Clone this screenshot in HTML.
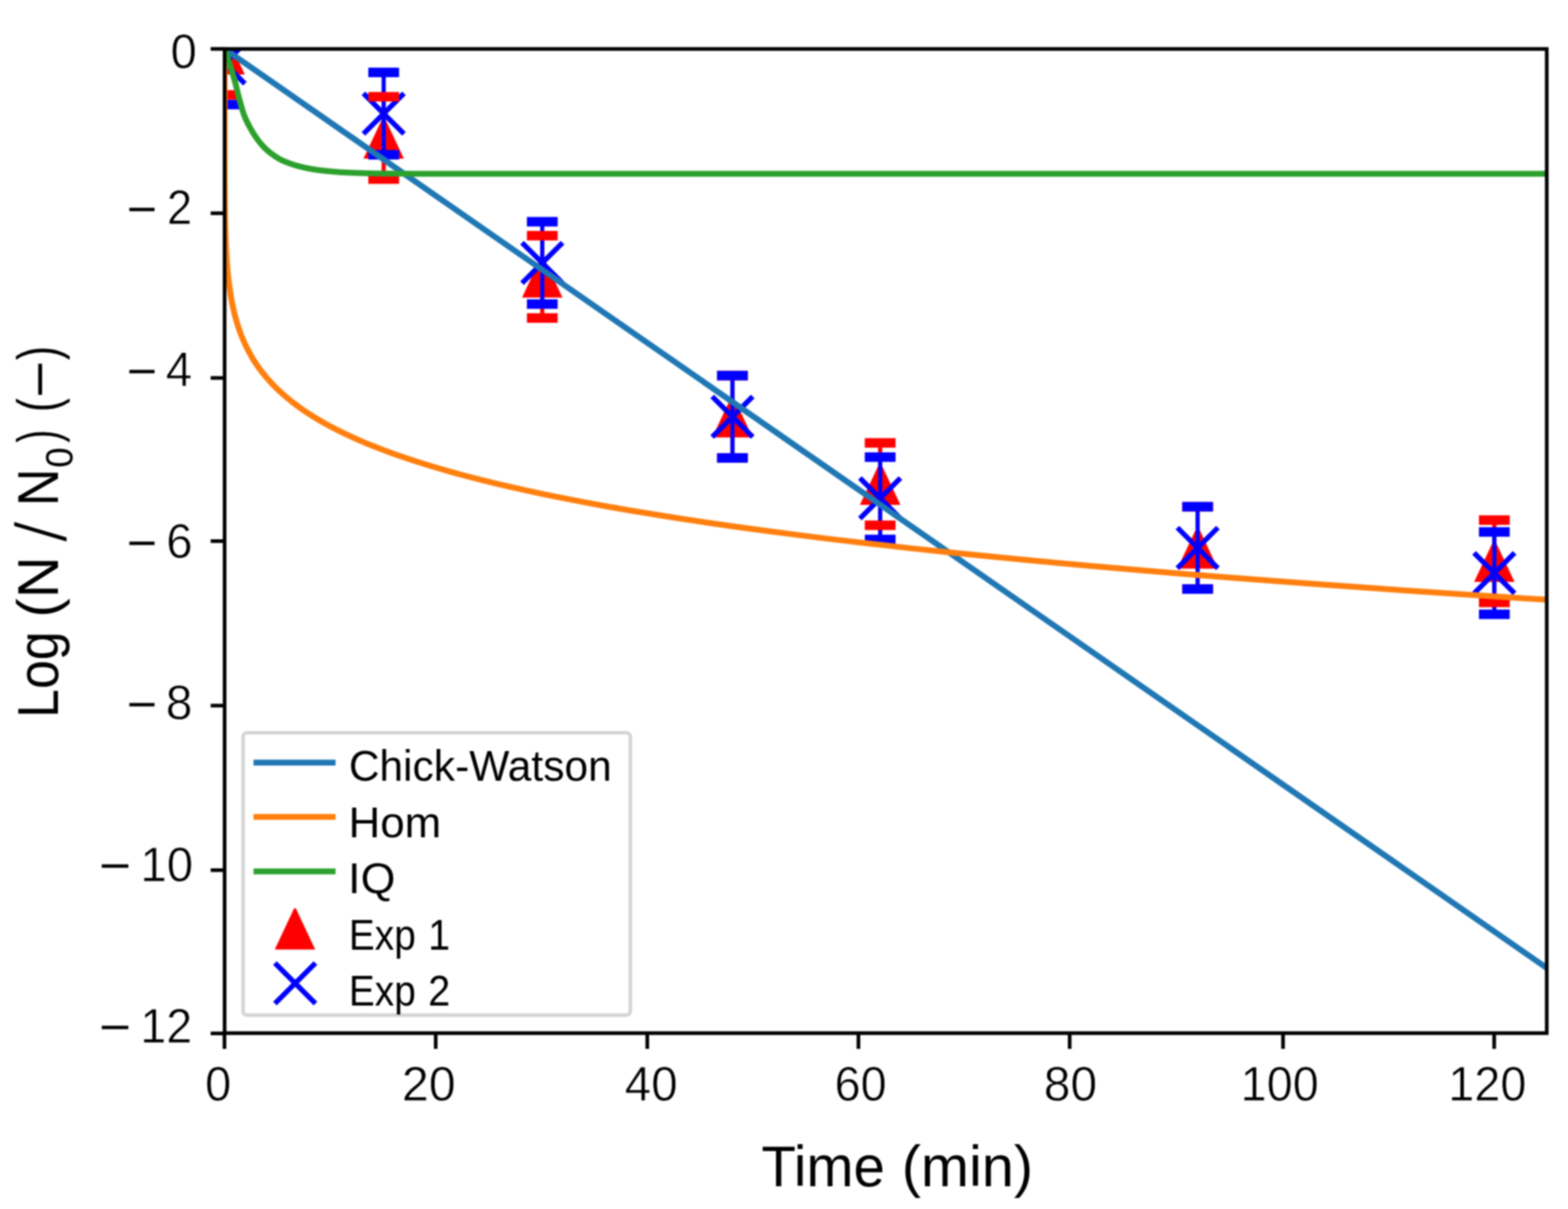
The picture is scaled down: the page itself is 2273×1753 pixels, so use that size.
<!DOCTYPE html>
<html lang="en"><head><meta charset="utf-8"><title>Inactivation kinetics: Log (N / N0) vs Time (min)</title>
<style>
html,body{margin:0;padding:0;background:#fff;}
body{width:2273px;height:1753px;overflow:hidden;}
svg{display:block;filter:blur(1.2px);}
text{font-family:"Liberation Sans","DejaVu Sans",sans-serif;fill:#000;stroke:#fff;stroke-width:0;stroke-linejoin:round;}
.tk{font-size:70.8px;stroke-width:0.8px;}
.lg{font-size:63.4px;stroke-width:0.0px;}
.al{font-size:84.3px;stroke-width:0.0px;}
.sub{font-size:56.0px;}
.sl{font-size:108px;stroke-width:3px;}
.mn{font-family:"DejaVu Sans","Liberation Sans",sans-serif;font-size:60.7px;stroke:none;}
</style></head><body>
<svg width="2273" height="1753" viewBox="0 0 2273 1753" role="img" aria-label="Log (N / N0) versus Time (min): Chick-Watson, Hom and IQ model fits with Exp 1 and Exp 2 data">
<rect width="2273" height="1753" fill="#fff"/>
<defs><clipPath id="ax"><rect x="325.60" y="71.00" width="1916.60" height="1427.00"/></clipPath></defs>
<g clip-path="url(#ax)">
<path d="M324.40 48.10L326.80 48.10L354.90 107.90L296.30 107.90Z" fill="#ff0000"/>
<path d="M555.00 170.20L557.40 170.20L585.50 230.00L526.90 230.00Z" fill="#ff0000"/>
<path d="M784.90 371.60L787.30 371.60L815.40 431.40L756.80 431.40Z" fill="#ff0000"/>
<path d="M1060.60 574.50L1063.00 574.50L1091.10 634.30L1032.50 634.30Z" fill="#ff0000"/>
<path d="M1274.70 672.10L1277.10 672.10L1305.20 731.90L1246.60 731.90Z" fill="#ff0000"/>
<path d="M1734.90 764.60L1737.30 764.60L1765.40 824.40L1706.80 824.40Z" fill="#ff0000"/>
<path d="M2165.00 784.00L2167.40 784.00L2195.50 843.80L2136.90 843.80Z" fill="#ff0000"/>
<path d="M296.20 62.50L355.00 121.30M296.20 121.30L355.00 62.50" stroke="#0000ff" stroke-width="7.40" fill="none"/>
<path d="M526.80 135.30L585.60 194.10M526.80 194.10L585.60 135.30" stroke="#0000ff" stroke-width="7.40" fill="none"/>
<path d="M756.70 351.80L815.50 410.60M756.70 410.60L815.50 351.80" stroke="#0000ff" stroke-width="7.40" fill="none"/>
<path d="M1032.40 574.90L1091.20 633.70M1032.40 633.70L1091.20 574.90" stroke="#0000ff" stroke-width="7.40" fill="none"/>
<path d="M1246.50 693.10L1305.30 751.90M1246.50 751.90L1305.30 693.10" stroke="#0000ff" stroke-width="7.40" fill="none"/>
<path d="M1706.70 765.00L1765.50 823.80M1706.70 823.80L1765.50 765.00" stroke="#0000ff" stroke-width="7.40" fill="none"/>
<path d="M2136.80 801.60L2195.60 860.40M2136.80 860.40L2195.60 801.60" stroke="#0000ff" stroke-width="7.40" fill="none"/>
<line x1="325.60" y1="18.20" x2="325.60" y2="137.60" stroke="#ff0000" stroke-width="6.00"/>
<line x1="556.20" y1="140.30" x2="556.20" y2="259.70" stroke="#ff0000" stroke-width="6.00"/>
<line x1="786.10" y1="341.70" x2="786.10" y2="461.10" stroke="#ff0000" stroke-width="6.00"/>
<line x1="1061.80" y1="544.60" x2="1061.80" y2="664.00" stroke="#ff0000" stroke-width="6.00"/>
<line x1="1275.90" y1="642.20" x2="1275.90" y2="761.60" stroke="#ff0000" stroke-width="6.00"/>
<line x1="1736.10" y1="734.70" x2="1736.10" y2="854.10" stroke="#ff0000" stroke-width="6.00"/>
<line x1="2166.20" y1="754.10" x2="2166.20" y2="873.50" stroke="#ff0000" stroke-width="6.00"/>
<line x1="325.60" y1="32.20" x2="325.60" y2="151.60" stroke="#0000ff" stroke-width="6.00"/>
<line x1="556.20" y1="105.00" x2="556.20" y2="224.40" stroke="#0000ff" stroke-width="6.00"/>
<line x1="786.10" y1="321.50" x2="786.10" y2="440.90" stroke="#0000ff" stroke-width="6.00"/>
<line x1="1061.80" y1="544.60" x2="1061.80" y2="664.00" stroke="#0000ff" stroke-width="6.00"/>
<line x1="1275.90" y1="662.80" x2="1275.90" y2="782.20" stroke="#0000ff" stroke-width="6.00"/>
<line x1="1736.10" y1="734.70" x2="1736.10" y2="854.10" stroke="#0000ff" stroke-width="6.00"/>
<line x1="2166.20" y1="771.30" x2="2166.20" y2="890.70" stroke="#0000ff" stroke-width="6.00"/>
<rect x="303.30" y="130.70" width="44.60" height="13.80" fill="#ff0000"/>
<rect x="533.90" y="133.40" width="44.60" height="13.80" fill="#ff0000"/>
<rect x="533.90" y="252.80" width="44.60" height="13.80" fill="#ff0000"/>
<rect x="763.80" y="334.80" width="44.60" height="13.80" fill="#ff0000"/>
<rect x="763.80" y="454.20" width="44.60" height="13.80" fill="#ff0000"/>
<rect x="1039.50" y="537.70" width="44.60" height="13.80" fill="#ff0000"/>
<rect x="1039.50" y="657.10" width="44.60" height="13.80" fill="#ff0000"/>
<rect x="1253.60" y="635.30" width="44.60" height="13.80" fill="#ff0000"/>
<rect x="1253.60" y="754.70" width="44.60" height="13.80" fill="#ff0000"/>
<rect x="1713.80" y="727.80" width="44.60" height="13.80" fill="#ff0000"/>
<rect x="1713.80" y="847.20" width="44.60" height="13.80" fill="#ff0000"/>
<rect x="2143.90" y="747.20" width="44.60" height="13.80" fill="#ff0000"/>
<rect x="2143.90" y="866.60" width="44.60" height="13.80" fill="#ff0000"/>
<rect x="303.30" y="144.70" width="44.60" height="13.80" fill="#0000ff"/>
<rect x="533.90" y="98.10" width="44.60" height="13.80" fill="#0000ff"/>
<rect x="533.90" y="217.50" width="44.60" height="13.80" fill="#0000ff"/>
<rect x="763.80" y="314.60" width="44.60" height="13.80" fill="#0000ff"/>
<rect x="763.80" y="434.00" width="44.60" height="13.80" fill="#0000ff"/>
<rect x="1039.50" y="537.70" width="44.60" height="13.80" fill="#0000ff"/>
<rect x="1039.50" y="657.10" width="44.60" height="13.80" fill="#0000ff"/>
<rect x="1253.60" y="655.90" width="44.60" height="13.80" fill="#0000ff"/>
<rect x="1253.60" y="775.30" width="44.60" height="13.80" fill="#0000ff"/>
<rect x="1713.80" y="727.80" width="44.60" height="13.80" fill="#0000ff"/>
<rect x="1713.80" y="847.20" width="44.60" height="13.80" fill="#0000ff"/>
<rect x="2143.90" y="764.40" width="44.60" height="13.80" fill="#0000ff"/>
<rect x="2143.90" y="883.80" width="44.60" height="13.80" fill="#0000ff"/>
<path d="M325.60 71.00L2242.20 1403.50" stroke="#1f77b4" stroke-width="8.50" fill="none"/>
<path d="M325.6 71.0L325.6 195.4L325.6 196.5L325.6 197.6L325.6 198.7L325.6 199.8L325.6 200.9L325.6 202.1L325.6 203.2L325.6 204.4L325.6 205.5L325.6 206.7L325.6 207.9L325.6 209.1L325.6 210.3L325.6 211.5L325.6 212.8L325.6 214.0L325.6 215.3L325.6 216.5L325.6 217.8L325.6 219.1L325.6 220.4L325.6 221.7L325.6 223.0L325.6 224.3L325.6 225.7L325.6 227.0L325.6 228.4L325.6 229.8L325.6 231.2L325.6 232.6L325.6 234.0L325.6 235.4L325.7 236.8L325.7 238.3L325.7 239.8L325.7 241.2L325.7 242.7L325.7 244.2L325.7 245.7L325.7 247.3L325.7 248.8L325.7 250.4L325.7 251.9L325.7 253.5L325.7 255.1L325.7 256.7L325.7 258.4L325.7 260.0L325.7 261.7L325.7 263.3L325.7 265.0L325.8 266.7L325.8 268.4L325.8 270.2L325.8 271.9L325.8 273.7L325.8 275.4L325.8 277.2L325.8 279.0L325.9 280.8L325.9 282.7L325.9 284.5L325.9 286.4L325.9 288.3L325.9 290.2L326.0 292.1L326.0 294.1L326.0 296.0L326.0 298.0L326.1 300.0L326.1 302.0L326.1 304.0L326.1 306.0L326.2 308.1L326.2 310.2L326.2 312.3L326.3 314.4L326.3 316.5L326.4 318.6L326.4 320.8L326.5 323.0L326.5 325.2L326.6 327.4L326.6 329.7L326.7 331.9L326.8 334.2L326.8 336.5L326.9 338.9L327.0 341.2L327.1 343.6L327.1 346.0L327.2 348.4L327.3 350.8L327.4 353.2L327.5 355.7L327.7 358.2L327.8 360.7L327.9 363.3L328.1 365.8L328.2 368.4L328.4 371.0L328.5 373.6L328.7 376.3L328.9 378.9L329.1 381.6L329.3 384.4L329.5 387.1L329.7 389.9L330.0 392.7L330.3 395.5L330.5 398.3L330.8 401.2L331.1 404.1L331.5 407.0L331.8 409.9L332.2 412.9L332.6 415.9L333.0 418.9L333.5 422.0L333.9 425.0L334.4 428.1L335.0 431.3L335.5 434.4L336.1 437.6L336.8 440.8L337.4 444.0L338.1 447.3L338.9 450.6L339.7 453.9L340.5 457.3L341.4 460.7L342.4 464.1L343.4 467.5L344.5 471.0L345.6 474.5L346.8 478.0L348.1 481.6L349.4 485.2L350.8 488.8L352.4 492.5L354.0 496.2L355.7 499.9L357.5 503.6L359.4 507.4L361.4 511.2L363.6 515.1L365.8 519.0L368.2 522.9L370.8 526.9L373.5 530.9L376.4 534.9L379.4 538.9L382.7 543.0L386.1 547.2L389.7 551.3L393.6 555.5L397.6 559.8L402.0 564.1L406.6 568.4L411.4 572.7L416.6 577.1L422.0 581.6L427.8 586.0L433.9 590.5L440.4 595.1L447.3 599.7L454.6 604.3L462.4 609.0L470.6 613.7L479.3 618.4L488.5 623.2L498.3 628.1L508.6 632.9L519.6 637.9L531.2 642.8L543.6 647.8L556.7 652.9L570.5 658.0L585.2 663.1L600.8 668.3L617.3 673.5L634.8 678.8L653.4 684.1L673.0 689.5L693.9 694.9L716.0 700.4L739.4 705.9L764.2 711.4L790.5 717.1L818.4 722.7L848.0 728.4L879.4 734.2L912.6 740.0L947.8 745.8L985.1 751.7L1024.7 757.7L1066.6 763.7L1111.1 769.8L1158.2 775.9L1208.2 782.1L1261.2 788.3L1317.3 794.6L1376.8 800.9L1439.9 807.3L1506.7 813.7L1577.6 820.2L1652.7 826.8L1732.3 833.4L1816.7 840.1L1906.2 846.8L2001.0 853.6L2101.6 860.5L2208.1 867.4L2242.2 869.5" stroke="#ff7f0e" stroke-width="8.50" fill="none" stroke-linejoin="round"/>
<path d="M325.60 71.00C326.96 75.10 331.20 87.53 333.75 95.60C336.30 103.67 338.72 111.48 340.90 119.40C343.07 127.32 344.63 135.18 346.80 143.10C348.97 151.02 351.32 159.97 353.90 166.90C356.48 173.83 359.32 179.17 362.30 184.70C365.28 190.23 368.63 195.55 371.80 200.10C374.97 204.65 377.75 208.23 381.30 212.00C384.85 215.77 389.15 219.63 393.10 222.70C397.05 225.77 401.03 228.22 405.00 230.40C408.97 232.58 412.93 234.22 416.90 235.80C420.87 237.38 422.87 238.32 428.80 239.90C434.73 241.48 444.58 243.92 452.50 245.30C460.42 246.68 466.72 247.32 476.30 248.20C485.88 249.08 498.55 250.05 510.00 250.60C521.45 251.15 530.00 251.28 545.00 251.50C560.00 251.72 590.83 251.83 600.00 251.90L2242.20 252.00" stroke="#2ca02c" stroke-width="8.50" fill="none"/>
</g>
<rect x="352.40" y="1062.50" width="561.30" height="409.30" rx="5.5" ry="5.5" fill="#fff" fill-opacity="0.8" stroke="#d4d4d4" stroke-width="5.2"/>
<line x1="367.5" y1="1105.80" x2="486.4" y2="1105.80" stroke="#1f77b4" stroke-width="8.50"/>
<line x1="367.5" y1="1184.60" x2="486.4" y2="1184.60" stroke="#ff7f0e" stroke-width="8.50"/>
<line x1="367.5" y1="1263.50" x2="486.4" y2="1263.50" stroke="#2ca02c" stroke-width="8.50"/>
<path d="M426.40 1316.90L428.80 1316.90L456.90 1376.70L398.30 1376.70Z" fill="#ff0000"/>
<path d="M398.50 1396.30L457.30 1455.10M398.50 1455.10L457.30 1396.30" stroke="#0000ff" stroke-width="7.40" fill="none"/>
<text class="lg" y="1132.30"><tspan x="505.64" textLength="381.11" lengthAdjust="spacingAndGlyphs">Chick-Watson</tspan></text>
<text class="lg" y="1214.20"><tspan x="505.23" textLength="134.38" lengthAdjust="spacingAndGlyphs">Hom</tspan></text>
<text class="lg" y="1294.50"><tspan x="504.62" textLength="68.47" lengthAdjust="spacingAndGlyphs">IQ</tspan></text>
<text class="lg" y="1376.90"><tspan x="505.84" textLength="96.88" lengthAdjust="spacingAndGlyphs">Exp</tspan> <tspan x="620.73" textLength="31.67" lengthAdjust="spacingAndGlyphs">1</tspan></text>
<text class="lg" y="1457.90"><tspan x="505.84" textLength="96.88" lengthAdjust="spacingAndGlyphs">Exp</tspan> <tspan x="620.76" textLength="31.89" lengthAdjust="spacingAndGlyphs">2</tspan></text>
<g stroke="#000" fill="none">
<rect x="325.60" y="71.00" width="1916.60" height="1427.00" stroke-width="5.30"/>
<line x1="325.40" y1="1498.00" x2="325.40" y2="1520.80" stroke-width="5.30"/>
<line x1="631.60" y1="1498.00" x2="631.60" y2="1520.80" stroke-width="5.30"/>
<line x1="938.30" y1="1498.00" x2="938.30" y2="1520.80" stroke-width="5.30"/>
<line x1="1244.40" y1="1498.00" x2="1244.40" y2="1520.80" stroke-width="5.30"/>
<line x1="1550.60" y1="1498.00" x2="1550.60" y2="1520.80" stroke-width="5.30"/>
<line x1="1859.90" y1="1498.00" x2="1859.90" y2="1520.80" stroke-width="5.30"/>
<line x1="2166.00" y1="1498.00" x2="2166.00" y2="1520.80" stroke-width="5.30"/>
<line x1="305.40" y1="70.90" x2="325.60" y2="70.90" stroke-width="5.30"/>
<line x1="305.40" y1="309.20" x2="325.60" y2="309.20" stroke-width="5.30"/>
<line x1="305.40" y1="548.00" x2="325.60" y2="548.00" stroke-width="5.30"/>
<line x1="305.40" y1="784.60" x2="325.60" y2="784.60" stroke-width="5.30"/>
<line x1="305.40" y1="1023.10" x2="325.60" y2="1023.10" stroke-width="5.30"/>
<line x1="305.40" y1="1261.70" x2="325.60" y2="1261.70" stroke-width="5.30"/>
<line x1="305.40" y1="1498.40" x2="325.60" y2="1498.40" stroke-width="5.30"/>
</g>
<text class="tk" y="1596.20"><tspan x="297.27" textLength="37.94" lengthAdjust="spacingAndGlyphs">0</tspan></text>
<text class="tk" y="1596.20"><tspan x="582.43" textLength="78.20" lengthAdjust="spacingAndGlyphs">20</tspan></text>
<text class="tk" y="1596.20"><tspan x="905.55" textLength="76.82" lengthAdjust="spacingAndGlyphs">40</tspan></text>
<text class="tk" y="1596.20"><tspan x="1209.66" textLength="75.56" lengthAdjust="spacingAndGlyphs">60</tspan></text>
<text class="tk" y="1596.20"><tspan x="1513.06" textLength="77.33" lengthAdjust="spacingAndGlyphs">80</tspan></text>
<text class="tk" y="1596.20"><tspan x="1798.49" textLength="113.10" lengthAdjust="spacingAndGlyphs">100</tspan></text>
<text class="tk" y="1596.20"><tspan x="2099.49" textLength="113.21" lengthAdjust="spacingAndGlyphs">120</tspan></text>
<text class="tk"><tspan x="247.36" textLength="38.06" lengthAdjust="spacingAndGlyphs" y="98.80">0</tspan></text>
<text class="tk"><tspan x="181.54" textLength="48.99" lengthAdjust="spacingAndGlyphs" y="322.60" class="mn">−</tspan><tspan x="241.89" textLength="36.50" lengthAdjust="spacingAndGlyphs" y="324.90">2</tspan></text>
<text class="tk"><tspan x="181.54" textLength="48.99" lengthAdjust="spacingAndGlyphs" y="558.00" class="mn">−</tspan><tspan x="240.36" textLength="38.25" lengthAdjust="spacingAndGlyphs" y="559.70">4</tspan></text>
<text class="tk"><tspan x="181.54" textLength="48.99" lengthAdjust="spacingAndGlyphs" y="807.00" class="mn">−</tspan><tspan x="241.12" textLength="38.20" lengthAdjust="spacingAndGlyphs" y="809.30">6</tspan></text>
<text class="tk"><tspan x="181.54" textLength="48.99" lengthAdjust="spacingAndGlyphs" y="1041.20" class="mn">−</tspan><tspan x="240.35" textLength="38.77" lengthAdjust="spacingAndGlyphs" y="1043.00">8</tspan></text>
<text class="tk"><tspan x="141.21" textLength="51.53" lengthAdjust="spacingAndGlyphs" y="1275.20" class="mn">−</tspan><tspan x="203.42" textLength="76.44" lengthAdjust="spacingAndGlyphs" y="1277.80">10</tspan></text>
<text class="tk"><tspan x="141.21" textLength="51.53" lengthAdjust="spacingAndGlyphs" y="1509.30" class="mn">−</tspan><tspan x="203.52" textLength="75.10" lengthAdjust="spacingAndGlyphs" y="1511.60">12</tspan></text>
<text class="al" y="1719.70"><tspan x="1103.86" textLength="178.94" lengthAdjust="spacingAndGlyphs">Time</tspan> <tspan x="1307.30" textLength="190.29" lengthAdjust="spacingAndGlyphs">(min)</tspan></text>
<text class="al" transform="translate(83.50 0) rotate(-90)"><tspan x="-1040.95" textLength="125.58" lengthAdjust="spacingAndGlyphs" y="0.00">Log</tspan> <tspan x="-895.53" y="0.00">(N</tspan> <tspan x="-787.17" textLength="32.56" lengthAdjust="spacingAndGlyphs" y="13.00" class="sl">/</tspan> <tspan x="-734.10" textLength="54.80" lengthAdjust="spacingAndGlyphs" y="0.00">N</tspan><tspan x="-678.34" textLength="29.58" lengthAdjust="spacingAndGlyphs" y="21.60" class="sub">0</tspan><tspan x="-641.83" textLength="18.80" lengthAdjust="spacingAndGlyphs" y="0.00">)</tspan> <tspan x="-597.13" textLength="19.94" lengthAdjust="spacingAndGlyphs" y="0.00">(</tspan><tspan x="-572.40" textLength="45.14" lengthAdjust="spacingAndGlyphs" y="-4.40">–</tspan><tspan x="-521.96" textLength="20.32" lengthAdjust="spacingAndGlyphs" y="0.00">)</tspan></text>
</svg></body></html>
